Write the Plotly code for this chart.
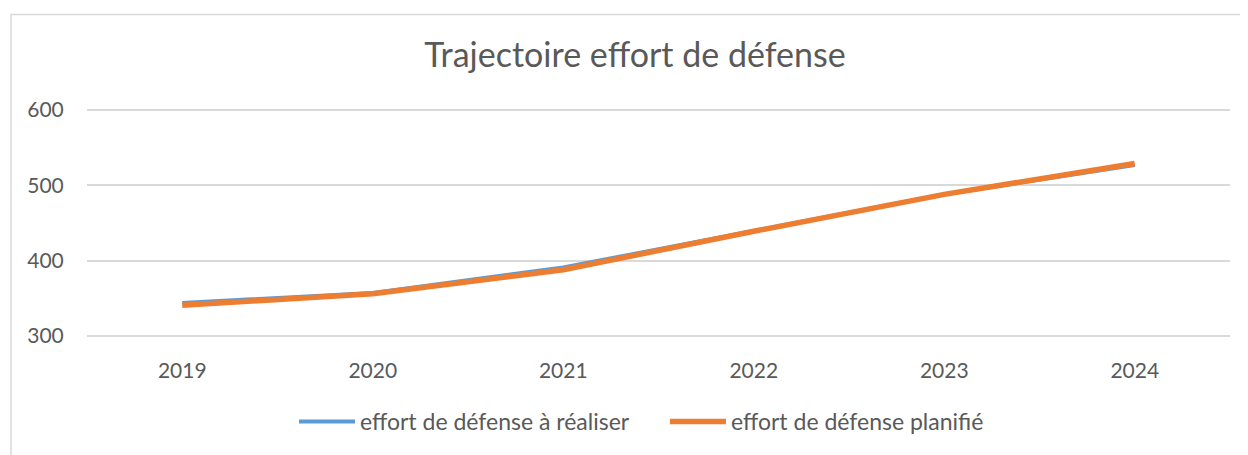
import plotly.graph_objects as go

years = ["2019", "2020", "2021", "2022", "2023", "2024"]
a_realiser = [344, 357, 391, 440, 488, 527]
planifie = [341, 356, 388, 439, 488, 529]
y_ticks = [300, 400, 500, 600]

FONT = "Lato"
GREY = "#595959"

# figure is placed at (8, 8) in the page by the default body margin
W, H = 1240, 447
L, R, T, B = 79, 18, 100, 113
PW, PH = W - L - R, H - T - B
U = 300 / 230  # value units per pixel (600 at y=102, 300 at y=332)
Y_RANGE = [300 - ((H - B) - 332) * U, 600 + (102 - T) * U]

fig = go.Figure()
fig.add_trace(go.Scatter(x=years, y=a_realiser, mode="lines",
                         name="effort de défense à réaliser",
                         line=dict(color="#5B9BD5", width=4)))
fig.add_trace(go.Scatter(x=years, y=planifie, mode="lines",
                         name="effort de défense planifié",
                         line=dict(color="#ED7D31", width=5.5)))

fig.update_layout(
    width=W, height=H,
    margin=dict(l=L, r=R, t=T, b=B),
    paper_bgcolor="white", plot_bgcolor="white",
    font=dict(family=FONT, color=GREY, size=21),
    title=dict(text="Trajectoire effort de défense", x=627 / W, xanchor="center",
               y=1 - 47 / H, yanchor="middle",
               font=dict(family=FONT, size=34, color=GREY)),
    showlegend=True,
    legend=dict(orientation="h", x=(286 - L) / PW, xanchor="left",
                y=(332 - 417) / PH, yanchor="middle",
                entrywidth=300, entrywidthmode="pixels", itemwidth=56,
                font=dict(size=23, color=GREY), traceorder="normal"),
    xaxis=dict(type="category", range=[-0.5, 5.5], showgrid=False, showline=False,
               zeroline=False, ticks="outside", ticklen=14,
               tickcolor="rgba(0,0,0,0)", tickfont=dict(size=21, color=GREY)),
    yaxis=dict(range=Y_RANGE, tickvals=y_ticks, showgrid=True,
               gridcolor="#d9d9d9", gridwidth=1.5, zeroline=False, showline=False,
               ticks="outside", ticklen=18, tickcolor="rgba(0,0,0,0)",
               tickfont=dict(size=21, color=GREY)),
    shapes=[dict(type="rect", xref="paper", yref="paper",
                 x0=(3 - L) / PW, x1=(1265 - L) / PW,
                 y0=(332 - 480) / PH, y1=(332 - 3) / PH,
                 line=dict(color="#d9d9d9", width=1.5), layer="below")],
)

fig.write_html("out.html")
